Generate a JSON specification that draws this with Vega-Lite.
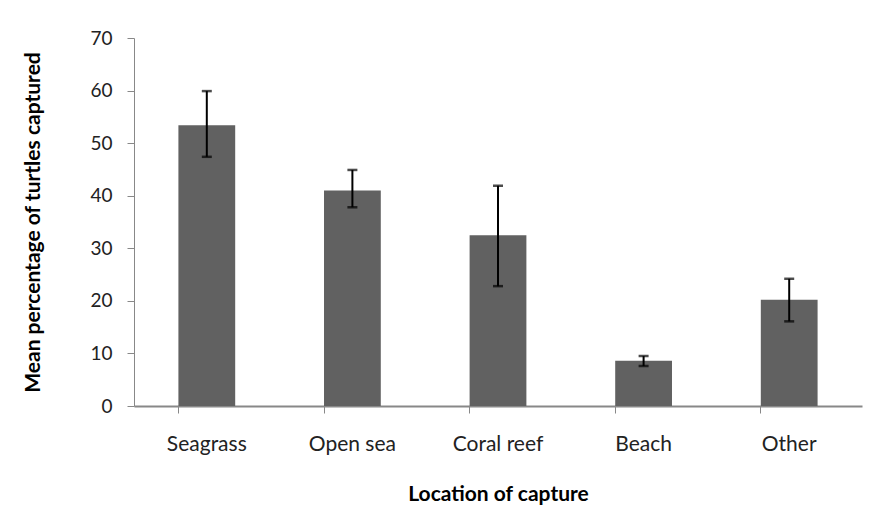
{
  "$schema": "https://vega.github.io/schema/vega-lite/v6.json",
  "width": 728,
  "height": 368,
  "autosize": "none",
  "padding": {"left": 134, "top": 38, "right": 13, "bottom": 122},
  "background": "white",
  "config": {
    "view": {"stroke": null},
    "font": "Lato"
  },
  "data": {
    "values": [
      {"location": "Seagrass", "mean": 53.4, "lo": 47.4, "hi": 59.9},
      {"location": "Open sea", "mean": 41.0, "lo": 37.8, "hi": 44.9},
      {"location": "Coral reef", "mean": 32.5, "lo": 22.8, "hi": 41.9},
      {"location": "Beach", "mean": 8.6, "lo": 7.6, "hi": 9.5},
      {"location": "Other", "mean": 20.2, "lo": 16.1, "hi": 24.2}
    ]
  },
  "encoding": {
    "x": {
      "field": "location",
      "type": "nominal",
      "sort": null,
      "scale": {"paddingInner": 0.61, "paddingOuter": 0.305},
      "axis": {
        "title": "Location of capture",
        "titleFont": "Lato",
        "titleFontSize": 21,
        "titleFontWeight": "bold",
        "titleColor": "#000000",
        "titlePadding": 29,
        "labelFont": "Lato",
        "labelFontSize": 21,
        "labelColor": "#222222",
        "labelAngle": 0,
        "labelPadding": 20,
        "domainColor": "#888888",
        "domainWidth": 2,
        "tickColor": "#888888",
        "tickSize": 7,
        "bandPosition": 0
      }
    }
  },
  "layer": [
    {
      "mark": {"type": "bar", "color": "#616161"},
      "encoding": {
        "y": {
          "field": "mean",
          "type": "quantitative",
          "scale": {"domain": [0, 70], "nice": false},
          "axis": {
            "title": "Mean percentage of turtles captured",
            "titleFont": "Lato",
            "titleFontSize": 21,
            "titleFontWeight": "bold",
            "titleColor": "#000000",
            "titlePadding": 46,
            "values": [0, 10, 20, 30, 40, 50, 60, 70],
            "labelFont": "Lato",
            "labelFontSize": 19,
            "labelColor": "#222222",
            "labelPadding": 15,
            "grid": false,
            "domainColor": "#888888",
            "domainWidth": 1,
            "tickColor": "#888888",
            "tickSize": 7
          }
        }
      }
    },
    {
      "mark": {"type": "rule", "color": "#000000", "strokeWidth": 2},
      "encoding": {
        "y": {"field": "lo", "type": "quantitative"},
        "y2": {"field": "hi"}
      }
    },
    {
      "mark": {"type": "tick", "color": "#000000", "thickness": 2.5, "size": 10, "orient": "horizontal"},
      "encoding": {
        "y": {"field": "lo", "type": "quantitative"}
      }
    },
    {
      "mark": {"type": "tick", "color": "#000000", "thickness": 2.5, "size": 10, "orient": "horizontal"},
      "encoding": {
        "y": {"field": "hi", "type": "quantitative"}
      }
    }
  ]
}
